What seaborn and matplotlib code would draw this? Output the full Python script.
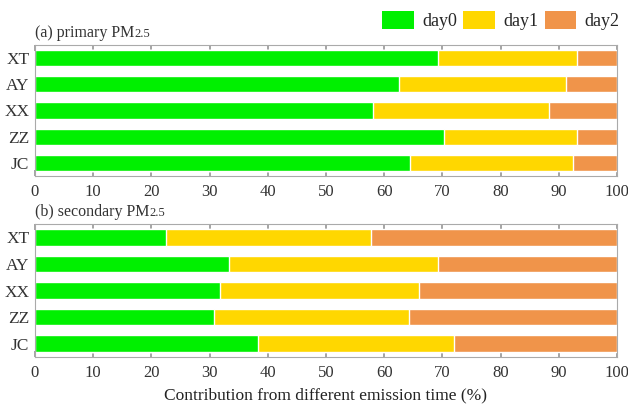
import pandas as pd
import matplotlib
matplotlib.use("Agg")
import matplotlib.pyplot as plt
import seaborn as sns
from matplotlib.patches import Patch

# ===============================
# datos
# ===============================
sites = ["XT", "AY", "XX", "ZZ", "JC"]
days = ["day0", "day1", "day2"]
colors = ["#00F000", "#FFD700", "#F0944A"]

primary_day0 = [69.3, 62.5, 58.1, 70.2, 64.4]
primary_day1 = [23.9, 28.7, 30.3, 23.0, 28.0]
primary_day2 = [6.8, 8.8, 11.6, 6.8, 7.6]

secondary_day0 = [22.5, 33.4, 31.8, 30.8, 38.4]
secondary_day1 = [35.3, 35.8, 34.2, 33.4, 33.6]
secondary_day2 = [42.2, 30.8, 34.0, 35.8, 28.0]

sns.set_theme(style="white")
plt.rcParams["font.family"] = ["Liberation Serif", "DejaVu Serif"]

fig = plt.figure(figsize=(6.28, 4.04), dpi=100)
ax_a = fig.add_axes([0.0557, 0.5644, 0.9268, 0.3242])
ax_b = fig.add_axes([0.0557, 0.1163, 0.9268, 0.3292])


def stacked(ax, d0, d1, d2, title):
    df = pd.DataFrame({"site": sites, "day0": d0, "day1": d1, "day2": d2})
    df["c1"] = df["day0"] + df["day1"]
    df["c2"] = df["c1"] + df["day2"]
    # draw from the cumulative total back to the first segment
    for col, c in zip(["c2", "c1", "day0"], colors[::-1]):
        sns.barplot(data=df, x=col, y="site", color=c, width=0.62,
                    orient="h", saturation=1, ax=ax)
    ax.set_xlim(0, 100)
    ax.set_xticks(range(0, 101, 10))
    ax.set_xlabel("")
    ax.set_ylabel("")
    ax.tick_params(axis="x", direction="in", length=4, top=True, bottom=True,
                   color="#999999", labelsize=12, pad=6, labelcolor="#333333")
    ax.tick_params(axis="y", length=0, labelsize=12.5, pad=4, labelcolor="#333333")
    for s in ax.spines.values():
        s.set_color("#aaaaaa")
        s.set_linewidth(0.8)
    t = ax.text(0, 1.06, title, transform=ax.transAxes, fontsize=11.5,
                color="#333333", va="baseline", ha="left")
    ax.annotate("2.5", xy=(1, 1.06), xycoords=(t, "axes fraction"),
                fontsize=9, color="#333333", va="baseline", ha="left")


stacked(ax_a, primary_day0, primary_day1, primary_day2, "(a) primary PM")
stacked(ax_b, secondary_day0, secondary_day1, secondary_day2, "(b) secondary PM")

ax_b.set_xlabel("Contribution from different emission time (%)",
                fontsize=12.5, color="#222222", labelpad=4)

handles = [Patch(facecolor=c, edgecolor="none") for c in colors]
fig.legend(handles, days, loc="upper right", bbox_to_anchor=(1.012, 1.012),
           ncol=3, frameon=False, fontsize=13, handlelength=1.75,
           handleheight=1.15, columnspacing=0.35, handletextpad=0.45)

fig.savefig("out.png", dpi=100)
plt.close()
